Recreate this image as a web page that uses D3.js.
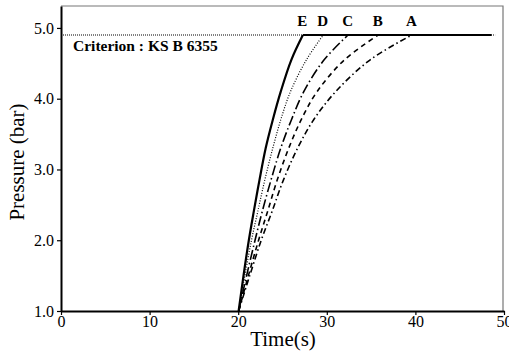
<!DOCTYPE html>
<html>
<head>
<meta charset="utf-8">
<script src="https://cdn.jsdelivr.net/npm/d3@7"></script>
<style>
  body { margin: 0; background: #fff; }
  svg text { font-family: "Liberation Serif", "Times New Roman", serif !important; }
</style>
</head>
<body>
<svg width="509" height="354"></svg>
<script>
// series: time (s) at each pressure level (bar)
const pressures = [1.0, 1.5, 2.0, 2.4, 2.85, 3.3, 3.7, 4.1, 4.55, 4.9];
const timesE = [20.05, 20.6, 21.2, 21.75, 22.4, 23.1, 23.9, 24.8, 26.0, 27.3];
const timesD = [20.05, 20.75, 21.5, 22.2, 23.0, 23.9, 24.8, 25.9, 27.7, 29.6];
const timesC = [20.05, 20.95, 21.9, 22.7, 23.7, 24.8, 26.0, 27.4, 29.7, 32.4];
const timesB = [20.05, 21.15, 22.3, 23.3, 24.4, 25.7, 27.1, 28.9, 32.0, 35.8];
const timesA = [20.05, 21.3, 22.6, 23.8, 25.1, 26.7, 28.5, 31.0, 34.9, 39.6];
const seriesNames = ["A", "B", "C", "D", "E"];
const criterion = 4.9;
const plateauEnd = 48.6;
const xTicks = [0, 10, 20, 30, 40, 50];
const yTicks = [1.0, 2.0, 3.0, 4.0, 5.0];

const svg = d3.select("svg");
const m = { left: 61, right: 503, top: 6, bottom: 311 };
const serif = '"Liberation Serif", "Times New Roman", serif';

const x = d3.scaleLinear().domain([0, 50]).range([m.left, m.right + 1]);
const y = d3.scaleLinear().domain([1.0, 5.31]).range([m.bottom, m.top]);

const dashes = {
  A: "6,3,1.5,3",
  B: "5,4",
  C: "10,3,1.5,3",
  D: "1,1.6",
  E: null
};
const widths = { A: 1.6, B: 1.6, C: 1.6, D: 1.2, E: 2.2 };
const times = { A: timesA, B: timesB, C: timesC, D: timesD, E: timesE };

// frame
svg.append("path")
    .attr("d", `M${m.left},${m.top}H${m.right}V${m.bottom}`)
    .attr("fill", "none")
    .attr("stroke", "#777")
    .attr("stroke-width", 1.2);

// criterion line
svg.append("line")
    .attr("x1", x(0)).attr("x2", x(plateauEnd + 0.4))
    .attr("y1", y(criterion)).attr("y2", y(criterion))
    .attr("stroke", "#000")
    .attr("stroke-width", 1)
    .attr("stroke-dasharray", "1,1");

svg.append("line")
    .attr("x1", x(timesE[timesE.length - 1])).attr("x2", x(plateauEnd))
    .attr("y1", y(criterion)).attr("y2", y(criterion))
    .attr("stroke", "#000")
    .attr("stroke-width", 2);

const line = d3.line()
    .x(d => x(d[0]))
    .y(d => y(d[1]))
    .curve(d3.curveCatmullRom.alpha(0.5));

seriesNames.forEach(name => {
  const pts = times[name].map((t, i) => [t, pressures[i]]);
  svg.append("path")
      .datum(pts)
      .attr("d", line)
      .attr("fill", "none")
      .attr("stroke", "#000")
      .attr("stroke-width", widths[name])
      .attr("stroke-dasharray", dashes[name]);
  svg.append("text")
      .attr("x", x(times[name][times[name].length - 1]) - 0.5)
      .attr("y", 26)
      .attr("text-anchor", "middle")
      .attr("font-weight", "bold")
      .attr("font-size", 15)
      .style("font-family", serif)
      .text(name);
});

// axes
const xAxis = svg.append("g")
    .attr("transform", `translate(0,${m.bottom})`)
    .call(d3.axisBottom(x).tickValues(xTicks).tickSize(4).tickSizeOuter(0).tickFormat(d3.format("d")));
const yAxis = svg.append("g")
    .attr("transform", `translate(${m.left},0)`)
    .call(d3.axisLeft(y).tickValues(yTicks).tickSize(4).tickSizeOuter(0).tickFormat(d3.format(".1f")));

[xAxis, yAxis].forEach(g => {
  g.attr("font-family", serif);
  g.select(".domain").attr("stroke", "#000").attr("stroke-width", 2);
  g.selectAll(".tick line").attr("stroke", "#000").attr("stroke-width", 1.2);
  g.selectAll(".tick text")
      .style("font-family", serif)
      .attr("font-size", 16)
      .attr("fill", "#000");
});
xAxis.selectAll(".tick text").attr("dy", "0.55em");

svg.append("text")
    .attr("x", 73).attr("y", 51)
    .attr("font-weight", "bold")
    .attr("font-size", 15.5)
    .style("font-family", serif)
    .text("Criterion : KS B 6355");

svg.append("text")
    .attr("x", 283).attr("y", 346)
    .attr("text-anchor", "middle")
    .attr("font-size", 21)
    .style("font-family", serif)
    .text("Time(s)");

svg.append("text")
    .attr("transform", "translate(24,162) rotate(-90)")
    .attr("text-anchor", "middle")
    .attr("font-size", 21)
    .style("font-family", serif)
    .text("Pressure (bar)");
</script>
</body>
</html>
